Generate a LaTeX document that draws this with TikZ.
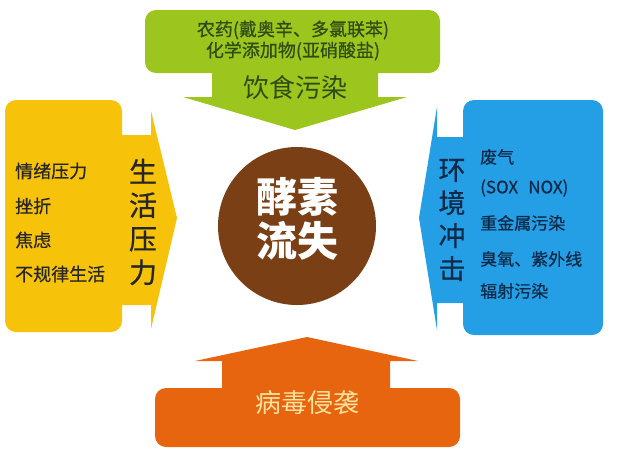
\documentclass[tikz,border=0pt]{standalone}
\usepackage{fontspec}
\setmainfont{Noto Sans CJK SC}
\newfontfamily\heavycjk[FakeBold=0.6]{Noto Sans CJK SC}
\definecolor{cgreen}{HTML}{9CC51E}
\definecolor{cyellow}{HTML}{F7C30A}
\definecolor{cblue}{HTML}{249EE4}
\definecolor{corange}{HTML}{E8650F}
\definecolor{cbrown}{HTML}{7A3F14}
\definecolor{tgreen}{HTML}{2F4C14}
\definecolor{tnavy}{HTML}{0E2A48}
\definecolor{tbottom}{HTML}{FCE3A0}
\tikzset{
  lbl/.style={inner sep=0pt, anchor=west, font=\heavycjk\fontsize{18}{18}\selectfont, text=black!85},
  rlbl/.style={inner sep=0pt, anchor=west, font=\heavycjk\fontsize{17}{17}\selectfont, text=tnavy},
  vert/.style={inner sep=0pt, align=center, font=\heavycjk\fontsize{28}{33.5}\selectfont},
}
\begin{document}
\begin{tikzpicture}[x=1pt,y=-1pt]
\useasboundingbox (0,0) rectangle (643,456);
\fill[white] (0,0) rectangle (643,456);
% green (top)
\fill[cgreen, rounded corners=11] (145,10) rectangle (440,73);
\fill[cgreen] (212,70) -- (378,70) -- (378,97) -- (407,97) -- (295,130) -- (183,97) -- (212,97) -- cycle;
% yellow (left)
\fill[cyellow, rounded corners=11] (5,100) rectangle (122,332);
\fill[cyellow] (118,135) -- (151,135) -- (151,111) -- (177,218) -- (151,329) -- (151,305) -- (118,305) -- cycle;
% blue (right)
\fill[cblue, rounded corners=11] (463,100) rectangle (603,335);
\fill[cblue] (467,137) -- (437,137) -- (437,107) -- (419,218) -- (437,330) -- (437,303) -- (467,303) -- cycle;
% orange (bottom)
\fill[corange, rounded corners=11] (155,388) rectangle (460,447);
\fill[corange] (222,392) -- (222,361) -- (195,361) -- (307,337) -- (418,361) -- (390,361) -- (390,392) -- cycle;
% centre
\node[circle, fill=cbrown, minimum size=158pt, inner sep=0pt] (core) at (297,226) {};
\node[inner sep=0pt, align=center, text=white, font=\fontsize{41}{44}\bfseries\selectfont] (coret) at (297,219) {酵素\\流失};
% top texts
\node[inner sep=0pt, text=tgreen, font=\heavycjk\fontsize{18}{18}\selectfont] (t1) at (293,30) {农药(戴奥辛、多氯联苯)};
\node[inner sep=0pt, text=tgreen, font=\heavycjk\fontsize{18}{18}\selectfont] (t2) at (293,51) {化学添加物(亚硝酸盐)};
\node[inner sep=0pt, text=tgreen, font=\fontsize{26}{26}\selectfont] (t3) at (295,88) {饮食污染};
% left texts
\node[lbl] (l1) at (15,171) {情绪压力};
\node[lbl] (l2) at (15,206) {挫折};
\node[lbl] (l3) at (15,240) {焦虑};
\node[lbl] (l4) at (15,274) {不规律生活};
\node[vert, text=black!85] (lv) at (143,222) {生\\活\\压\\力};
% right texts
\node[vert, text=tnavy, font=\heavycjk\fontsize{27}{33}\selectfont] (rv) at (452,220) {环\\境\\冲\\击};
\node[rlbl] (r1) at (480,157) {废气};
\node[rlbl] (r2) at (480,188) {(SOX\hspace{0.6em}NOX)};
\node[rlbl] (r3) at (480,223) {重金属污染};
\node[rlbl] (r4) at (480,259) {臭氧、紫外线};
\node[rlbl] (r5) at (480,291) {辐射污染};
% bottom text
\node[inner sep=0pt, text=tbottom, font=\fontsize{26}{26}\selectfont] (b1) at (307,403) {病毒侵袭};
\end{tikzpicture}
\end{document}
